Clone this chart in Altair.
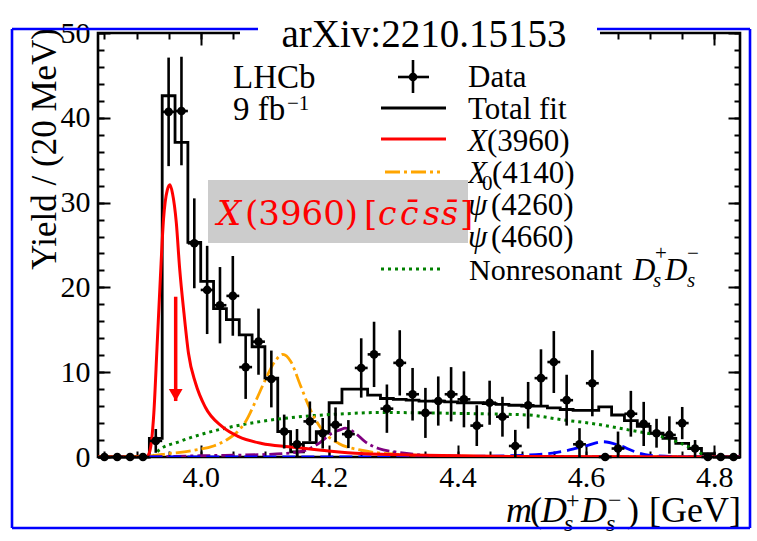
import altair as alt
import pandas as pd

FONT = "Liberation Serif"

# ---------------- data ----------------
centers = [3.85, 3.87, 3.89, 3.91, 3.93, 3.95, 3.97, 3.99, 4.01, 4.03,
           4.05, 4.07, 4.09, 4.11, 4.13, 4.15, 4.17, 4.19, 4.21, 4.23,
           4.25, 4.27, 4.29, 4.31, 4.33, 4.35, 4.37, 4.39, 4.41, 4.43,
           4.45, 4.47, 4.49, 4.51, 4.53, 4.55, 4.57, 4.59, 4.61, 4.63,
           4.65, 4.67, 4.69, 4.71, 4.73, 4.75, 4.77, 4.79, 4.81, 4.83]
data_y = [0, 0, 0, 0, 1.9, 40.7, 40.8, 25.2, 19.7, 17.9,
          19.0, 10.6, 13.6, 9.2, 3.0, 1.5, 4.2, 2.8, 3.8, 2.7,
          10.5, 12.1, 5.7, 11.1, 7.4, 5.2, 6.6, 7.4, 6.8, 3.7,
          6.4, 4.75, 1.3, 6.1, 9.3, 11.2, 6.7, 1.5, 8.7, 0,
          1.0, 5.1, 3.9, 2.8, 2.6, 4.0, 1.0, 0, 0, 0]
data_err = [0, 0, 0, 0, 1.4, 6.4, 6.4, 5.3, 5.2, 4.5,
            4.7, 3.75, 3.9, 3.35, 2.0, 1.8, 2.35, 1.8, 2.05, 1.65,
            3.5, 3.85, 2.85, 3.85, 3.1, 2.95, 2.9, 3.2, 3.3, 2.4,
            2.6, 2.35, 1.9, 2.75, 3.4, 3.65, 3.0, 1.9, 3.9, 0,
            2.0, 2.7, 2.6, 1.7, 2.2, 1.9, 1.0, 0, 0, 0]

edges = [3.84, 3.86, 3.88, 3.90, 3.92, 3.94, 3.96, 3.98, 4.00, 4.02,
         4.04, 4.06, 4.08, 4.10, 4.12, 4.14, 4.16, 4.18, 4.20, 4.22,
         4.24, 4.26, 4.28, 4.30, 4.32, 4.34, 4.36, 4.38, 4.40, 4.42,
         4.44, 4.46, 4.48, 4.50, 4.52, 4.54, 4.56, 4.58, 4.60, 4.62,
         4.64, 4.66, 4.68, 4.70, 4.72, 4.74, 4.76, 4.78, 4.80, 4.82, 4.84]
total_fit = [0, 0, 0, 0, 2.2, 42.6, 37.1, 25.3, 20.7, 17.5,
             16.2, 14.4, 13.0, 9.3, 3.0, 0.6, 1.7, 3.0, 6.4, 8.0,
             8.0, 7.3, 6.9, 6.8, 6.7, 6.6, 6.6, 6.5, 6.4, 6.4,
             6.3, 6.2, 6.1, 6.0, 6.0, 5.8, 5.6, 5.5, 5.5, 5.9,
             4.95, 4.3, 3.6, 2.8, 2.2, 1.6, 1.0, 0.4, 0, 0, 0]

x3960_m = [3.84, 3.915, 3.92, 3.927, 3.932, 3.937, 3.942, 3.948, 3.952, 3.956,
           3.962, 3.967, 3.974, 3.981, 3.992, 4.007, 4.033, 4.059, 4.095, 4.137,
           4.188, 4.25, 4.35, 4.5, 4.84]
x3960_y = [0, 0, 0.5, 5.2, 13.0, 20.9, 28.0, 31.5, 32.1, 31.1,
           27.6, 22.4, 16.9, 12.2, 8.7, 5.9, 3.6, 2.4, 1.6, 1.2,
           0.8, 0.4, 0.2, 0.05, 0]

x4140_m = [3.84, 3.915, 3.95, 3.99, 4.02, 4.04, 4.06, 4.07, 4.085, 4.10,
           4.115, 4.128, 4.14, 4.155, 4.17, 4.19, 4.215, 4.25, 4.30, 4.40,
           4.50, 4.84]
x4140_y = [0, 0.1, 0.4, 0.8, 1.3, 2.0, 3.2, 4.2, 6.5, 9.0,
           11.2, 12.1, 11.3, 8.5, 5.7, 3.1, 1.6, 0.8, 0.35, 0.1,
           0.02, 0]

psi4260_m = [3.92, 4.0, 4.10, 4.153, 4.184, 4.204, 4.217, 4.225, 4.241, 4.256,
             4.277, 4.303, 4.355, 4.45, 4.84]
psi4260_y = [0, 0.15, 0.3, 0.6, 1.6, 2.8, 3.2, 3.4, 2.8, 1.8,
             1.0, 0.6, 0.2, 0.05, 0]

psi4660_m = [3.92, 4.3, 4.45, 4.536, 4.573, 4.599, 4.627, 4.651, 4.677, 4.70,
             4.75, 4.84]
psi4660_y = [0, 0.02, 0.1, 0.35, 0.8, 1.3, 1.8, 1.4, 0.6, 0.2,
             0.02, 0]

nonres_m = [3.925, 3.935, 3.966, 4.007, 4.044, 4.095, 4.147, 4.199, 4.225, 4.277,
            4.355, 4.433, 4.51, 4.562, 4.614, 4.666, 4.718, 4.76, 4.78, 4.80]
nonres_y = [0, 0.8, 1.8, 2.8, 3.5, 4.2, 4.7, 5.0, 5.1, 5.25,
            5.2, 5.1, 4.95, 4.4, 3.9, 3.2, 2.4, 1.2, 0.4, 0]

arrow_m = [3.961]
arrow_top = [18.9]
arrow_tip = [6.6]

x_major = [4.0, 4.2, 4.4, 4.6, 4.8]
x_minor = [3.85, 3.9, 3.95, 4.0, 4.05, 4.1, 4.15, 4.2, 4.25, 4.3, 4.35, 4.4,
           4.45, 4.5, 4.55, 4.6, 4.65, 4.7, 4.75, 4.8]
y_major = [0, 10, 20, 30, 40, 50]
y_minor = [0, 2, 4, 6, 8, 10, 12, 14, 16, 18, 20, 22, 24, 26, 28, 30, 32, 34,
           36, 38, 40, 42, 44, 46, 48, 50]

# ---------------- tables ----------------
pts = pd.DataFrame({"m": centers, "y": data_y, "e": data_err})
pts["lo"] = (pts["y"] - pts["e"]).clip(lower=0)
pts["hi"] = pts["y"] + pts["e"]
pts["mlo"] = pts["m"] - 0.01
pts["mhi"] = pts["m"] + 0.01
bars = pts[pts["e"] > 0]
hist = pd.DataFrame({"m": edges, "y": total_fit})

xs = alt.Scale(domain=[3.84, 4.84], nice=False, zero=False)
ys = alt.Scale(domain=[0, 50], nice=False, zero=False)
X = lambda f="m": alt.X(f"{f}:Q", scale=xs, axis=None)
Y = lambda f="y": alt.Y(f"{f}:Q", scale=ys, axis=None)


def curve(m, y, color, dash=None, width=2.8):
    df = pd.DataFrame({"m": m, "y": y})
    kw = dict(color=color, strokeWidth=width, interpolate="monotone", clip=True)
    if dash:
        kw["strokeDash"] = dash
    return alt.Chart(df).mark_line(**kw).encode(x=X(), y=Y())


# ---------------- axes (ticks inside on all four sides) ----------------
dummy = pd.DataFrame({"m": [4.0], "y": [0.0]})
common = dict(domain=False, grid=False, tickColor="black", tickWidth=2,
              title=None, labelFont=FONT, labelFontSize=30, labelColor="black")


def axis_layer(xo, xv, xsize, yo, yv, ysize, show):
    xa = alt.Axis(orient=xo, values=xv, tickSize=xsize, offset=-xsize,
                  labels=show, labelPadding=5, format=".1f",
                  labelOverlap=False, labelFlush=False, **common)
    ya = alt.Axis(orient=yo, values=yv, tickSize=ysize, offset=-ysize,
                  labels=show, labelPadding=8, format="d",
                  labelOverlap=False, labelFlush=False, **common)
    return alt.Chart(dummy).mark_point(opacity=0).encode(
        x=alt.X("m:Q", scale=xs, axis=xa),
        y=alt.Y("y:Q", scale=ys, axis=ya))


ax1 = axis_layer("bottom", x_major, 12, "left", y_major, 12, True)
ax2 = axis_layer("bottom", x_minor, 6, "left", y_minor, 6, False)
ax3 = axis_layer("top", x_major, 12, "right", y_major, 12, False)
ax4 = axis_layer("top", x_minor, 6, "right", y_minor, 6, False)

# ---------------- marks ----------------
hist_line = alt.Chart(hist).mark_line(
    color="black", strokeWidth=2.8, interpolate="step-after").encode(x=X(), y=Y())

green = curve(nonres_m, nonres_y, "#008000", [3, 4], 3)
orange = curve(x4140_m, x4140_y, "#ffa500", [15, 4, 3, 4])
purple = curve(psi4260_m, psi4260_y, "#800080", [13, 4, 3, 4])
blue = curve(psi4660_m, psi4660_y, "#0000ff", [13, 6])
red = curve(x3960_m, x3960_y, "#ff0000", None, 3)

vbar = alt.Chart(bars).mark_rule(color="black", strokeWidth=2.6).encode(
    x=X(), y=Y("lo"), y2="hi:Q")
hbar = alt.Chart(pts).mark_rule(color="black", strokeWidth=2.6).encode(
    x=X("mlo"), x2="mhi:Q", y=Y())
dots = alt.Chart(pts).mark_point(shape="circle", filled=True, color="black",
                                 size=75, opacity=1).encode(x=X(), y=Y())

arrow_df = pd.DataFrame({"m": arrow_m, "top": arrow_top, "tip": arrow_tip})
arrow_shaft = alt.Chart(arrow_df).mark_rule(color="#ff0000", strokeWidth=3.5).encode(
    x=X(), y=Y("top"), y2="tip:Q")
arrow_head = alt.Chart(arrow_df).mark_point(
    shape="triangle-down", filled=True, color="#ff0000", size=190, opacity=1,
    yOffset=-6).encode(x=X(), y=Y("tip"))


# ---------------- text helpers (pixel positions in the plot frame) ----------------
one = pd.DataFrame({"k": [0]})


def txt(s, x, y, size=31, style="normal", font=FONT, color="black",
        align="left", baseline="alphabetic", angle=0):
    return alt.Chart(one).mark_text(
        text=s, font=font, fontSize=size, fontStyle=style, color=color,
        align=align, baseline=baseline, angle=angle).encode(
        x=alt.value(x), y=alt.value(y))


def hline(x1, x2, y, color, dash=None, width=2.8):
    kw = dict(color=color, strokeWidth=width)
    if dash:
        kw["strokeDash"] = dash
    return alt.Chart(one).mark_rule(**kw).encode(
        x=alt.value(x1), x2=alt.value(x2), y=alt.value(y))


def vline(x, y1, y2, color, width=2.6):
    return alt.Chart(one).mark_rule(color=color, strokeWidth=width).encode(
        x=alt.value(x), y=alt.value(y1), y2=alt.value(y2))


legend = [
    hline(300, 331, 44, "black", width=2.6), vline(315, 27, 60, "black"),
    alt.Chart(one).mark_point(shape="circle", filled=True, color="black",
                              size=75, opacity=1).encode(x=alt.value(315), y=alt.value(44)),
    txt("Data", 370, 54),
    hline(283, 348, 75, "black"), txt("Total fit", 370, 86),
    hline(283, 348, 106, "#ff0000", width=3),
    txt("X", 370, 118, style="italic"), txt("(3960)", 389, 118),
    hline(287, 342, 139, "#ffa500", [15, 4, 3, 4]),
    txt("X", 370, 150, style="italic"), txt("0", 384, 157, size=21),
    txt("(4140)", 394, 150),
    hline(283, 348, 170, "#800080", [13, 4, 3, 4]),
    txt("ψ", 370, 182, style="italic"), txt("(4260)", 393, 182),
    hline(283, 348, 202, "#0000ff", [13, 6]),
    txt("ψ", 370, 214, style="italic"), txt("(4660)", 393, 214),
    hline(283, 344, 236, "#008000", [3, 4], width=3),
    txt("Nonresonant", 371, 247, size=30),
    txt("D", 535, 247, style="italic"), txt("+", 557, 227, size=21),
    txt("s", 555, 254, size=21, style="italic"),
    txt("D", 567, 247, style="italic"), txt("−", 589, 227, size=21),
    txt("s", 589, 254, size=21, style="italic"),
]

lhcb = [
    txt("LHCb", 135, 55, size=33),
    txt("9 fb", 135, 87, size=33), txt("−1", 189, 77, size=21),
]

gray_box = alt.Chart(one).mark_rect(color="#cccccc").encode(
    x=alt.value(110), x2=alt.value(370), y=alt.value(147), y2=alt.value(210))
RF = "DejaVu Serif"
red_label = [
    txt("X", 119, 192, size=34, style="italic", font=RF, color="#ff0000"),
    txt("(3960)", 147, 192, size=34, font=RF, color="#ff0000"),
    txt("[", 266, 192, size=34, font=RF, color="#ff0000"),
    txt("c", 280, 192, size=33, style="italic", font=RF, color="#ff0000"),
    txt("c\u0304", 302, 192, size=33, style="italic", font=RF, color="#ff0000"),
    txt("s", 325, 192, size=33, style="italic", font=RF, color="#ff0000"),
    txt("s\u0304", 343, 192, size=33, style="italic", font=RF, color="#ff0000"),
    txt("]", 362, 192, size=34, font=RF, color="#ff0000"),
]

# axis titles
ytitle = txt("Yield / (20 MeV)", -53, -5, size=35, align="right",
             baseline="middle", angle=270)
xt_y = 489
xtitle = [
    txt("m", 408, xt_y, size=36, style="italic"),
    txt("(", 432, xt_y, size=36),
    txt("D", 443, xt_y, size=36, style="italic"),
    txt("+", 468, xt_y - 14, size=24), txt("s", 466, xt_y + 9, size=24, style="italic"),
    txt("D", 483, xt_y, size=36, style="italic"),
    txt("−", 510, xt_y - 14, size=24), txt("s", 508, xt_y + 9, size=24, style="italic"),
    txt(")", 529, xt_y, size=36),
    txt("[GeV]", 643, xt_y, size=36, align="right"),
]

# blue frame with title (the title sits on a white patch that breaks the frame)
BLUE = "#0000ff"
title_patch = alt.Chart(one).mark_rect(color="white").encode(
    x=alt.value(142), x2=alt.value(502), y=alt.value(-30), y2=alt.value(14))
frame = [
    title_patch,
    vline(-86, -4, 495, BLUE, 2.6), vline(652, -4, 495, BLUE, 2.6),
    hline(-86, 652, 495, BLUE, width=2.6),
    hline(-86, 160, -4, BLUE, width=2.6), hline(499, 652, -4, BLUE, width=2.6),
    txt("arXiv:2210.15153", 326, 14, size=39, align="center"),
]

chart = alt.layer(
    ax1, ax2, ax3, ax4,
    hist_line, green, orange, purple, blue, red,
    vbar, hbar, dots, arrow_shaft, arrow_head,
    *legend, gray_box, *red_label, *lhcb, ytitle, *xtitle, *frame,
).resolve_axis(x="independent", y="independent").properties(
    width=642, height=424,
    autosize=alt.AutoSizeParams(type="none"),
    padding={"left": 98, "top": 33, "right": 17, "bottom": 84},
).configure_view(stroke="black", strokeWidth=2.6)

chart.save("out.html", embed_options={"renderer": "svg", "actions": False})
